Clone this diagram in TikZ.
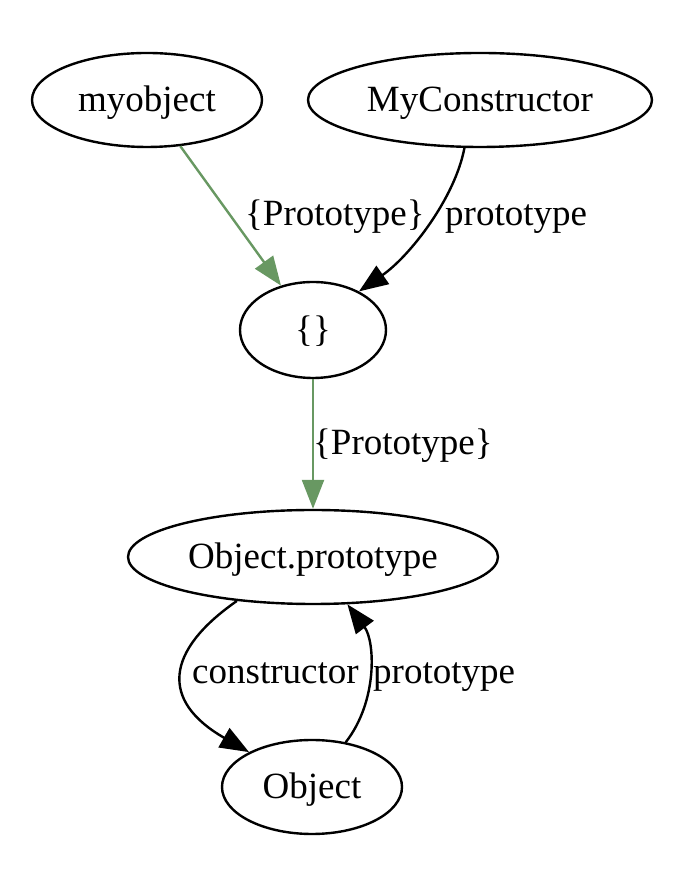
\documentclass[tikz,border=0pt]{standalone}
\usepackage{fontspec}
\setmainfont{Liberation Serif}
\usetikzlibrary{shapes.geometric,arrows.meta}
\definecolor{protogreen}{RGB}{104,152,98}
\begin{document}
\begin{tikzpicture}[x=1pt,y=1pt,
  every node/.style={font=\fontsize{37}{44}\selectfont},
  obj/.style={ellipse,draw,line width=2.4pt,inner sep=0pt,text height=27pt,text depth=3.5pt},
  lbl/.style={inner sep=0pt,anchor=base west},
  edge/.style={line width=2.4pt,-{Triangle[length=29pt,width=22pt]}},
  protoedge/.style={edge,draw=protogreen,fill=protogreen}]
\useasboundingbox (0,0) rectangle (682,886);

% objects
\node[obj,minimum width=230pt,minimum height=94pt] (mo) at (147,786) {myobject};
\node[obj,minimum width=344pt,minimum height=94pt] (mc) at (480,786) {MyConstructor};
\node[obj,minimum width=146pt,minimum height=96pt] (ob) at (313,556) {\{\}};
\node[obj,minimum width=370pt,minimum height=94pt] (op) at (313,329) {Object.prototype};
\node[obj,minimum width=180pt,minimum height=94pt] (oo) at (312,99) {Object};

% internal [[Prototype]] links
\draw[protoedge] (mo) -- (ob);
\draw[protoedge] (ob) -- (op);
\node[lbl] (l1) at (245,660) {\{Prototype\}};
\node[lbl] (l2) at (313,431) {\{Prototype\}};

% ordinary properties
\draw[edge] (mc.-108) .. controls (455,688) and (410,630) .. (ob.40);
\node[lbl] (l3) at (445,660) {prototype};
\draw[edge] (op.-150) .. controls (165,235) and (160,185) .. (oo.151);
\node[lbl] (l4) at (192,202) {constructor};
\draw[edge] (oo.53) .. controls (378,185) and (375,245) .. (op.-54);
\node[lbl] (l5) at (373,202) {prototype};
\end{tikzpicture}
\end{document}
